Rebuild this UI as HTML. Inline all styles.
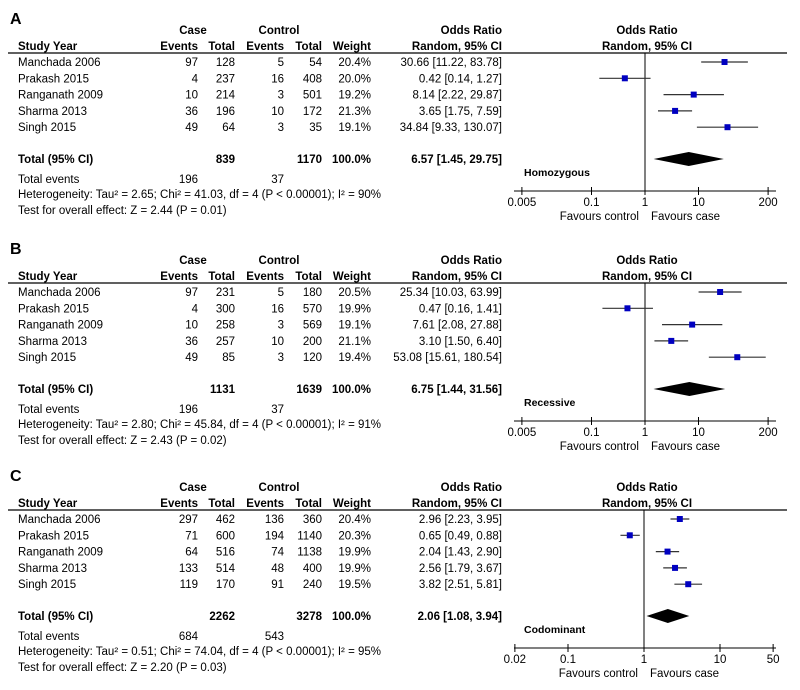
<!DOCTYPE html>
<html><head><meta charset="utf-8"><style>
body{margin:0;background:#fff}
svg{display:block;font-family:"Liberation Sans",Arial,sans-serif}
</style></head><body>
<svg id="c" width="800" height="690" viewBox="0 0 800 690"></svg>
<script>
const studies = ["Manchada 2006","Prakash 2015","Ranganath 2009","Sharma 2013","Singh 2015"];
// Panel A
const aCaseEv=[97,4,10,36,49], aCaseTot=[128,237,214,196,64], aCtrlEv=[5,16,3,10,3], aCtrlTot=[54,408,501,172,35];
const aWeight=["20.4%","20.0%","19.2%","21.3%","19.1%"];
const aOR=[30.66,0.42,8.14,3.65,34.84], aLo=[11.22,0.14,2.22,1.75,9.33], aHi=[83.78,1.27,29.87,7.59,130.07];
const aTotal=[6.57,1.45,29.75], aTotN=["839","1170"], aEv=["196","37"];
const aHet="Heterogeneity: Tau² = 2.65; Chi² = 41.03, df = 4 (P < 0.00001); I² = 90%";
const aTest="Test for overall effect: Z = 2.44 (P = 0.01)";
const aTicks=[0.005,0.1,1,10,200], aTickLabels=["0.005","0.1","1","10","200"];
// Panel B
const bCaseEv=[97,4,10,36,49], bCaseTot=[231,300,258,257,85], bCtrlEv=[5,16,3,10,3], bCtrlTot=[180,570,569,200,120];
const bWeight=["20.5%","19.9%","19.1%","21.1%","19.4%"];
const bOR=[25.34,0.47,7.61,3.10,53.08], bLo=[10.03,0.16,2.08,1.50,15.61], bHi=[63.99,1.41,27.88,6.40,180.54];
const bTotal=[6.75,1.44,31.56], bTotN=["1131","1639"], bEv=["196","37"];
const bHet="Heterogeneity: Tau² = 2.80; Chi² = 45.84, df = 4 (P < 0.00001); I² = 91%";
const bTest="Test for overall effect: Z = 2.43 (P = 0.02)";
const bTicks=[0.005,0.1,1,10,200], bTickLabels=["0.005","0.1","1","10","200"];
// Panel C
const cCaseEv=[297,71,64,133,119], cCaseTot=[462,600,516,514,170], cCtrlEv=[136,194,74,48,91], cCtrlTot=[360,1140,1138,400,240];
const cWeight=["20.4%","20.3%","19.9%","19.9%","19.5%"];
const cOR=[2.96,0.65,2.04,2.56,3.82], cLo=[2.23,0.49,1.43,1.79,2.51], cHi=[3.95,0.88,2.90,3.67,5.81];
const cTotal=[2.06,1.08,3.94], cTotN=["2262","3278"], cEv=["684","543"];
const cHet="Heterogeneity: Tau² = 0.51; Chi² = 74.04, df = 4 (P < 0.00001); I² = 95%";
const cTest="Test for overall effect: Z = 2.20 (P = 0.03)";
const cTicks=[0.02,0.1,1,10,50], cTickLabels=["0.02","0.1","1","10","50"];

const NS="http://www.w3.org/2000/svg", svg=document.getElementById('c');
function el(tag,attrs,parent,txt){const e=document.createElementNS(NS,tag);for(const k in attrs)e.setAttribute(k,attrs[k]);if(txt!==undefined)e.textContent=txt;(parent||svg).appendChild(e);return e;}
function txt(g,x,y,s,anchor,bold,size){const t=el('text',{x:x,y:y,'text-anchor':anchor||'start','font-size':size||11.5,'font-weight':bold?'bold':'normal',fill:'#000'},g,s);return t;}
function fmt(v){return v.toFixed(2);}

function panel(top,letter,label,ce,ct,ke,kt,w,or,lo,hi,tot,totN,ev,het,test,ticks,tickLabels,zeroX,ppd){
  const g=el('g',{transform:'translate(0,'+top+')'});
  
  
  const x=v=>zeroX+Math.log10(v)*ppd;
  const T=txt(g,10,24,letter,'start',true,16);
  txt(g,193,34,'Case','middle',true);txt(g,279,34,'Control','middle',true);
  txt(g,502,34,'Odds Ratio','end',true);txt(g,647,34,'Odds Ratio','middle',true);
  txt(g,18,50,'Study Year','start',true);txt(g,198,50,'Events','end',true);txt(g,235,50,'Total','end',true);
  txt(g,284,50,'Events','end',true);txt(g,322,50,'Total','end',true);txt(g,371,50,'Weight','end',true);
  txt(g,502,50,'Random, 95% CI','end',true);txt(g,647,50,'Random, 95% CI','middle',true);
  const hl=el('line',{x1:8,x2:787,y1:53,y2:53,stroke:'#000','stroke-width':1.3},g);
  
  const axY=191;
  const vl=el('line',{x1:x(1),x2:x(1),y1:53,y2:axY,stroke:'#000','stroke-width':1},g);
  
  for(let i=0;i<studies.length;i++){
    const y=62+i*16.3;
    const r=el('g',{},g);
    
    txt(r,18,y+4,studies[i]);txt(r,198,y+4,String(ce[i]),'end');txt(r,235,y+4,String(ct[i]),'end');
    txt(r,284,y+4,String(ke[i]),'end');txt(r,322,y+4,String(kt[i]),'end');txt(r,371,y+4,w[i],'end');
    txt(r,502,y+4,fmt(or[i])+' ['+fmt(lo[i])+', '+fmt(hi[i])+']','end');
    const ci=el('line',{x1:x(lo[i]),x2:x(hi[i]),y1:y,y2:y,stroke:'#333','stroke-width':1.2},g);
    
    const sq=el('rect',{x:x(or[i])-3,y:y-3,width:6,height:6,fill:'#0000c0'},g);
    
  }
  const ty=159;
  txt(g,18,ty+4,'Total (95% CI)','start',true);txt(g,235,ty+4,totN[0],'end',true);txt(g,322,ty+4,totN[1],'end',true);
  txt(g,371,ty+4,'100.0%','end',true);txt(g,502,ty+4,fmt(tot[0])+' ['+fmt(tot[1])+', '+fmt(tot[2])+']','end',true);
  const d=el('polygon',{points:x(tot[1])+','+ty+' '+x(tot[0])+','+(ty-7)+' '+x(tot[2])+','+ty+' '+x(tot[0])+','+(ty+7),fill:'#000'},g);
  
  const lb=txt(g,524,ty+17,label,'start',true,10.5);
  txt(g,18,ty+24,'Total events');txt(g,198,ty+24,ev[0],'end');txt(g,284,ty+24,ev[1],'end');
  txt(g,18,ty+39,het);txt(g,18,ty+55,test);
  const ax=el('line',{x1:514,x2:776,y1:axY,y2:axY,stroke:'#000','stroke-width':1},g);
  
  for(let i=0;i<ticks.length;i++){
    const tx=x(ticks[i]);
    el('line',{x1:tx,x2:tx,y1:axY-4,y2:axY+4,stroke:'#000','stroke-width':1},g);
    const tl=txt(g,tx,axY+15,tickLabels[i],'middle');
  }
  txt(g,x(1)-6,axY+29,'Favours control','end');txt(g,x(1)+6,axY+29,'Favours case','start');
}
panel(0,'A','Homozygous',aCaseEv,aCaseTot,aCtrlEv,aCtrlTot,aWeight,aOR,aLo,aHi,aTotal,aTotN,aEv,aHet,aTest,aTicks,aTickLabels,645,53.5);
panel(230,'B','Recessive',bCaseEv,bCaseTot,bCtrlEv,bCtrlTot,bWeight,bOR,bLo,bHi,bTotal,bTotN,bEv,bHet,bTest,bTicks,bTickLabels,645,53.5);
panel(457,'C','Codominant',cCaseEv,cCaseTot,cCtrlEv,cCtrlTot,cWeight,cOR,cLo,cHi,cTotal,cTotN,cEv,cHet,cTest,cTicks,cTickLabels,644,76);
</script>
</body></html>
